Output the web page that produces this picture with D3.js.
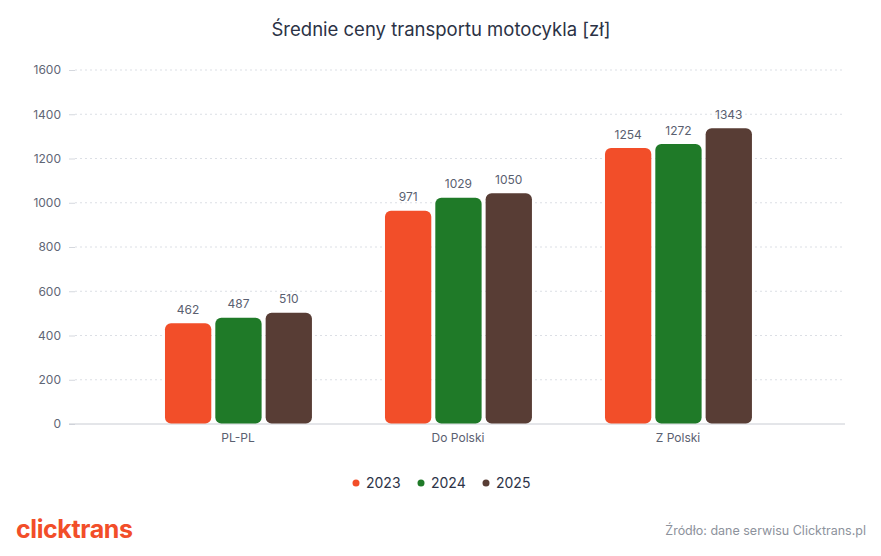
<!DOCTYPE html>
<html>
<head>
<meta charset="utf-8">
<script src="https://cdn.jsdelivr.net/npm/d3@7"></script>
<style>
  body { margin: 0; background: #fff; }
  svg { font-family: Inter, "Noto Sans", sans-serif; }
</style>
</head>
<body>
<svg id="chart"></svg>
<script>
const categories = ['PL-PL', 'Do Polski', 'Z Polski'];
const years = ['2023', '2024', '2025'];
const values2023 = [462, 971, 1254];
const values2024 = [487, 1029, 1272];
const values2025 = [510, 1050, 1343];
const yTicks = [0, 200, 400, 600, 800, 1000, 1200, 1400, 1600];

const colors = { '2023': '#f24e29', '2024': '#1f7a28', '2025': '#583d35' };

const width = 881, height = 556;
const plotLeft = 75, plotRight = 845, plotTop = 70, plotBottom = 424;

const svg = d3.select('#chart')
    .attr('width', width)
    .attr('height', height);

// title
svg.append('text')
    .attr('x', 441)
    .attr('y', 36)
    .attr('text-anchor', 'middle')
    .attr('font-size', '18.5px')
    .attr('fill', '#2b3245')
    .text('Średnie ceny transportu motocykla [zł]');

const x0 = d3.scaleBand()
    .domain(categories)
    .range([plotLeft, plotRight])
    .paddingInner(0)
    .paddingOuter(0.25);

const x1 = d3.scaleBand()
    .domain(years)
    .range([x0.bandwidth() * 0.159, x0.bandwidth() * 0.827])
    .paddingInner(0.08);

const y = d3.scaleLinear()
    .domain([0, 1600])
    .range([plotBottom, plotTop]);

// grid lines
svg.append('g')
    .selectAll('line')
    .data(yTicks.filter(d => d > 0))
    .join('line')
    .attr('x1', plotLeft)
    .attr('x2', plotRight)
    .attr('y1', d => y(d))
    .attr('y2', d => y(d))
    .attr('stroke', '#dcdfe5')
    .attr('stroke-dasharray', '2,3');

// y axis
const yAxis = svg.append('g')
    .attr('transform', `translate(${plotLeft}, 0)`)
    .call(d3.axisLeft(y).tickValues(yTicks).tickFormat(d3.format('d')).tickSize(6).tickPadding(8));
yAxis.select('.domain').remove();
yAxis.selectAll('.tick line').attr('stroke', '#d5d8de');
yAxis.selectAll('.tick text')
    .attr('font-size', '12px')
    .attr('fill', '#5f6676')
    .attr('font-family', 'Inter, "Noto Sans", sans-serif');

// baseline
svg.append('line')
    .attr('x1', plotLeft - 6)
    .attr('x2', plotRight)
    .attr('y1', y(0))
    .attr('y2', y(0))
    .attr('stroke', '#c9ccd3');

// bars
const rows = categories.map((c, i) => ({
    key: c,
    vals: [
        { year: '2023', value: values2023[i] },
        { year: '2024', value: values2024[i] },
        { year: '2025', value: values2025[i] }
    ]
}));

const groups = svg.append('g')
    .selectAll('g')
    .data(rows)
    .join('g')
    .attr('transform', d => `translate(${x0(d.key)}, 0)`);

// small inset so bars sit just inside their value line
const inset = 1.5;

groups.selectAll('rect')
    .data(d => d.vals)
    .join('rect')
    .attr('x', d => x1(d.year))
    .attr('y', d => y(d.value) + inset)
    .attr('width', x1.bandwidth())
    .attr('height', d => y(0) - y(d.value) - inset - 0.5)
    .attr('rx', 6)
    .attr('fill', d => colors[d.year]);

groups.selectAll('text')
    .data(d => d.vals)
    .join('text')
    .attr('x', d => x1(d.year) + x1.bandwidth() / 2)
    .attr('y', d => y(d.value) - 8)
    .attr('text-anchor', 'middle')
    .attr('font-size', '12px')
    .attr('fill', '#5a6070')
    .text(d => d.value);

// category labels
svg.append('g')
    .selectAll('text')
    .data(categories)
    .join('text')
    .attr('x', d => x0(d) + x0.bandwidth() / 2 - 2)
    .attr('y', y(0) + 18)
    .attr('text-anchor', 'middle')
    .attr('font-size', '12px')
    .attr('fill', '#5a6070')
    .text(d => d);

// legend
const legendX = [356, 421, 486];
const legend = svg.append('g')
    .selectAll('g')
    .data(years)
    .join('g')
    .attr('transform', (d, i) => `translate(${legendX[i]}, 483)`);

legend.append('circle')
    .attr('r', 3.5)
    .attr('fill', d => colors[d]);

legend.append('text')
    .attr('x', 10)
    .attr('y', 5)
    .attr('font-size', '14px')
    .attr('fill', '#2d3448')
    .text(d => d);

// logo
svg.append('text')
    .attr('x', 16)
    .attr('y', 538)
    .attr('font-size', '25px')
    .attr('font-weight', 'bold')
    .attr('letter-spacing', '-0.4')
    .attr('fill', '#f24e29')
    .text('clicktrans');

// source
svg.append('text')
    .attr('x', 866)
    .attr('y', 535)
    .attr('text-anchor', 'end')
    .attr('font-size', '12.5px')
    .attr('fill', '#8d929c')
    .text('Źródło: dane serwisu Clicktrans.pl');
</script>
</body>
</html>
